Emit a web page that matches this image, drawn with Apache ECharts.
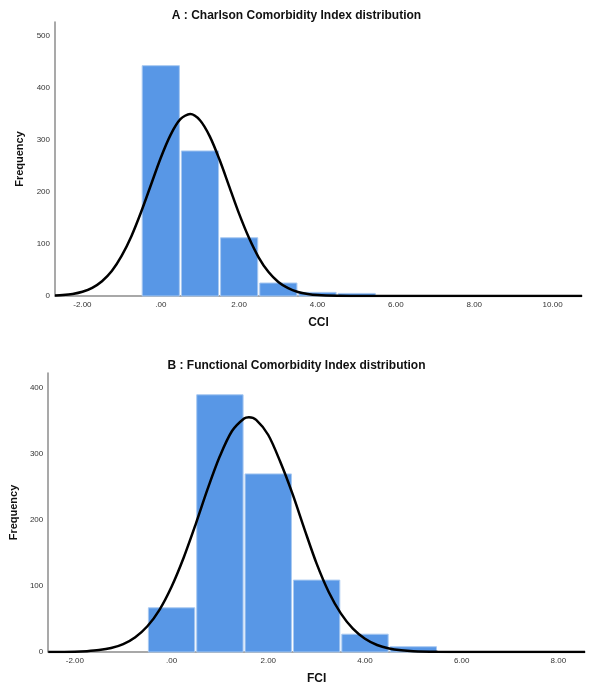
<!DOCTYPE html>
<html>
<head>
<meta charset="utf-8">
<script src="https://cdn.jsdelivr.net/npm/echarts@6/dist/echarts.min.js"></script>
<style>
    html, body { margin: 0; padding: 0; background: #fff; }
    #chart { width: 593px; height: 688px; }
</style>
</head>
<body>
<div id="chart"></div>
<script>
// histogram bins (bin centre) and frequencies
const binsA = [0, 1, 2, 3, 4, 5];
const countsA = [443, 279, 112, 25, 7, 5];
const binsB = [0, 1, 2, 3, 4, 5];
const countsB = [67, 390, 270, 109, 27, 8];

// fitted normal curve
const curveXA = [-2.7, -2.5, -2.25, -2, -1.75, -1.5, -1.25, -1, -0.75, -0.5, -0.25, 0, 0.25, 0.5, 0.75,
    1, 1.25, 1.5, 1.75, 2, 2.25, 2.5, 2.75, 3, 3.25, 3.5, 3.75, 4, 4.5, 5, 6, 8, 10.75];
const curveYA = [1, 1.8, 4, 8.2, 15.8, 28.5, 48, 77, 115, 162, 214, 266, 310, 340, 350,
    338, 307, 262, 210, 158, 112, 74, 46, 27, 15, 7.8, 3.8, 1.7, 0.3, 0, 0, 0, 0];
const curveXB = [-2.55, -2, -1.75, -1.5, -1.25, -1, -0.75, -0.5, -0.25, 0, 0.25, 0.5, 0.75, 1, 1.25, 1.5,
    1.6, 1.75, 2, 2.25, 2.5, 2.75, 3, 3.25, 3.5, 3.75, 4, 4.25, 4.5, 4.75, 5, 5.5, 6, 8.55];
const curveYB = [0.1, 0.5, 1.3, 2.9, 6.1, 12, 22.5, 39, 64, 99, 143, 194, 248, 297, 335, 354,
    356, 352, 329, 288, 240, 186, 134, 91, 58.6, 35.3, 20, 10.6, 5.3, 2.5, 1.1, 0.2, 0, 0];

const xTicksA = [-2, 0, 2, 4, 6, 8, 10];
const xTicksB = [-2, 0, 2, 4, 6, 8];
const yTicksA = [0, 100, 200, 300, 400, 500];
const yTicksB = [0, 100, 200, 300, 400];

const titles = ['A : Charlson Comorbidity Index distribution', 'B : Functional Comorbidity Index distribution'];
const xNames = ['CCI', 'FCI'];

const barColor = '#5897e6';
const fontFam = '"Liberation Sans", Arial, sans-serif';

function fmtX(v) {
    return v.toFixed(2).replace(/^0/, '');
}

function renderBar(params, api) {
    const x = api.value(0);
    const y = api.value(1);
    const p1 = api.coord([x - 0.5, y]);
    const p2 = api.coord([x + 0.5, 0]);
    return {
        type: 'rect',
        shape: { x: p1[0] + 1, y: p1[1], width: p2[0] - p1[0] - 2, height: p2[1] - p1[1] },
        style: { fill: barColor, stroke: '#a8c9f1', lineWidth: 1 }
    };
}

function xAxisCfg(idx, min, max, ticks, name, gap) {
    return {
        gridIndex: idx,
        type: 'value',
        min: min,
        max: max,
        name: name,
        nameLocation: 'middle',
        nameGap: gap,
        nameTextStyle: { fontFamily: fontFam, fontSize: 12, fontWeight: 'bold', color: '#111' },
        axisLine: { onZero: false, lineStyle: { color: '#8c8c8c', width: 1.5 } },
        axisTick: { show: false },
        splitLine: { show: false },
        axisLabel: {
            customValues: ticks,
            formatter: fmtX,
            fontFamily: fontFam,
            fontSize: 8,
            color: '#333',
            margin: 5
        }
    };
}

function yAxisCfg(idx, max, ticks, gap) {
    return {
        gridIndex: idx,
        type: 'value',
        min: 0,
        max: max,
        name: 'Frequency',
        nameLocation: 'middle',
        nameGap: gap,
        nameTextStyle: { fontFamily: fontFam, fontSize: 11, fontWeight: 'bold', color: '#111' },
        axisLine: { show: true, onZero: false, lineStyle: { color: '#8c8c8c', width: 1.5 } },
        axisTick: { show: false },
        splitLine: { show: false },
        axisLabel: {
            customValues: ticks,
            fontFamily: fontFam,
            fontSize: 8,
            color: '#333',
            margin: 5
        }
    };
}

var chartDom = document.getElementById('chart');
var myChart = echarts.init(chartDom);
var option;
option = {
    animation: false,
    backgroundColor: '#fff',
    title: [
        {
            text: titles[0], left: 'center', top: 5,
            textStyle: { fontFamily: fontFam, fontSize: 12, fontWeight: 'bold', color: '#111' }
        },
        {
            text: titles[1], left: 'center', top: 355,
            textStyle: { fontFamily: fontFam, fontSize: 12, fontWeight: 'bold', color: '#111' }
        }
    ],
    grid: [
        { left: 55, right: 11, top: 22, bottom: 392 },
        { left: 47, right: 8, top: 373, bottom: 36 }
    ],
    xAxis: [
        xAxisCfg(0, -2.7, 10.75, xTicksA, xNames[0], 21),
        xAxisCfg(1, -2.55, 8.55, xTicksB, xNames[1], 21)
    ],
    yAxis: [
        yAxisCfg(0, 527, yTicksA, 29),
        yAxisCfg(1, 423, yTicksB, 24)
    ],
    series: [
        {
            type: 'custom',
            xAxisIndex: 0, yAxisIndex: 0,
            renderItem: renderBar,
            data: binsA.map((b, i) => [b, countsA[i]])
        },
        {
            type: 'custom',
            xAxisIndex: 1, yAxisIndex: 1,
            renderItem: renderBar,
            data: binsB.map((b, i) => [b, countsB[i]])
        },
        {
            type: 'line',
            xAxisIndex: 0, yAxisIndex: 0,
            smooth: 0.3,
            symbol: 'none',
            z: 5,
            lineStyle: { color: '#000', width: 2.5 },
            data: curveXA.map((x, i) => [x, curveYA[i]])
        },
        {
            type: 'line',
            xAxisIndex: 1, yAxisIndex: 1,
            smooth: 0.3,
            symbol: 'none',
            z: 5,
            lineStyle: { color: '#000', width: 2.5 },
            data: curveXB.map((x, i) => [x, curveYB[i]])
        }
    ]
};
option && myChart.setOption(option);
</script>
</body>
</html>
